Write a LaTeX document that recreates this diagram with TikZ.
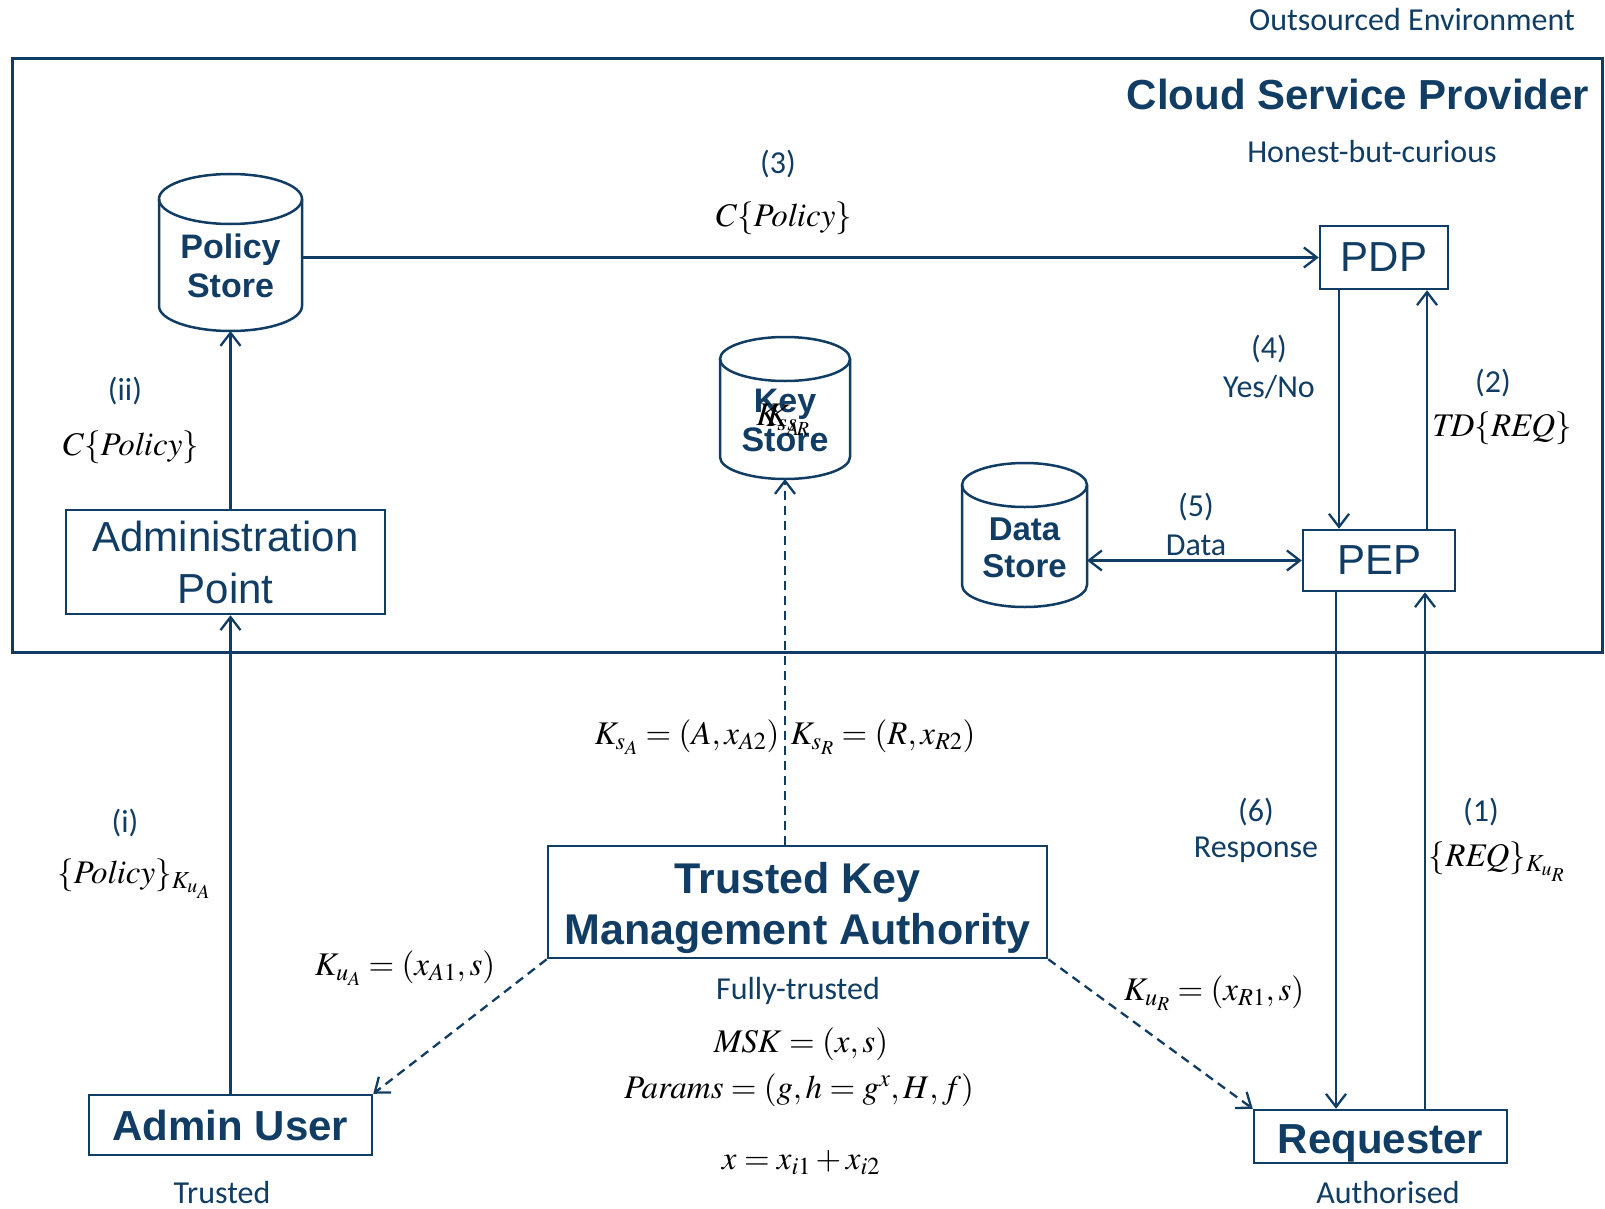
\documentclass[tikz,border=0pt]{standalone}
\usepackage{mathptmx}
\usepackage[no-math]{fontspec}
\newfontfamily\arialfont{Liberation Sans}
\newfontfamily\califont{Carlito}
\usetikzlibrary{arrows.meta}
\definecolor{navy}{HTML}{113D64}

\begin{document}
\begin{tikzpicture}[x=1pt,y=-1pt,
	box/.style={draw=navy, line width=2.5pt, text=navy, inner sep=0pt, align=center},
	store/.style={inner sep=0pt, outer sep=0pt, text=navy, align=center, font=\arialfont\bfseries\fontsize{34}{39}\selectfont},
	storeline/.style={draw=navy, line width=2.5pt},
	lbl/.style={text=navy, inner sep=1pt, font=\califont\fontsize{32}{36}\selectfont},
	eq/.style={font=\fontsize{33}{38}\selectfont},
	flow/.style={navy, line width=2.3pt, -{Straight Barb[length=13pt,width=20pt]}},
	keyflow/.style={flow, dash pattern=on 9pt off 6pt}]
		\useasboundingbox (0,0) rectangle (1605,1209);
		
		% outsourced environment
		\node[draw=navy, line width=3pt, minimum width=1590pt, minimum height=593pt] (csp) at (807,355.5) {};
		\node[lbl] (outenv) at (1412,20) {Outsourced Environment};
		\node[text=navy, font=\arialfont\bfseries\fontsize{42}{48}\selectfont] (csptitle) at (1358,94) {Cloud Service Provider};
		\node[lbl] (hbc) at (1372,152) {Honest-but-curious};
		
		% policy store
		\node[store, minimum width=143pt, minimum height=157pt] (ps) at (230.5,252.5) {\rule{0pt}{52pt}Policy\\Store};
		\draw[storeline] ([yshift=-25pt]ps.north west) -- ([yshift=25pt]ps.south west)
			arc[start angle=180, end angle=360, x radius=71.5pt, y radius=25pt] -- ([yshift=-25pt]ps.north east);
		\draw[storeline] ([yshift=-25pt]ps.north) ellipse [x radius=71.5pt, y radius=25pt];
		
		% key store
		\node[store, minimum width=130pt, minimum height=142pt] (ks) at (785,408) {\rule{0pt}{49pt}Key\\Store};
		\draw[storeline] ([yshift=-22pt]ks.north west) -- ([yshift=22pt]ks.south west)
			arc[start angle=180, end angle=360, x radius=65pt, y radius=22pt] -- ([yshift=-22pt]ks.north east);
		\draw[storeline] ([yshift=-22pt]ks.north) ellipse [x radius=65pt, y radius=22pt];
		
		% data store
		\node[store, minimum width=125pt, minimum height=144pt, font=\arialfont\bfseries\fontsize{33}{37}\selectfont] (ds) at (1024.5,535) {\rule{0pt}{48pt}Data\\Store};
		\draw[storeline] ([yshift=-22pt]ds.north west) -- ([yshift=22pt]ds.south west)
			arc[start angle=180, end angle=360, x radius=62.5pt, y radius=22pt] -- ([yshift=-22pt]ds.north east);
		\draw[storeline] ([yshift=-22pt]ds.north) ellipse [x radius=62.5pt, y radius=22pt];
		
		% overlapping key labels in the key store
		\node[eq, inner sep=0pt] (ksa) at (778,420) {$K_{s_A}$};
		\node[eq, inner sep=0pt] (ksr) at (788,420) {$K_{s_R}$};
		
		% points
		\node[box, minimum width=128pt, minimum height=63pt, font=\arialfont\fontsize{42}{48}\selectfont] (pdp) at (1384,257.5) {PDP};
		\node[box, minimum width=152pt, minimum height=61pt, font=\arialfont\fontsize{42}{48}\selectfont] (pep) at (1379,560.5) {PEP};
		\node[box, minimum width=319pt, minimum height=104pt, font=\arialfont\fontsize{42}{52}\selectfont] (adm) at (225.5,562) {Administration\\Point};
		
		% entities
		\node[box, minimum width=283pt, minimum height=60pt, font=\arialfont\bfseries\fontsize{42}{48}\selectfont] (au) at (230.5,1125) {Admin User};
		\node[box, minimum width=499pt, minimum height=112pt, font=\arialfont\bfseries\fontsize{43}{51}\selectfont] (tkma) at (797.5,902) {Trusted Key\rule{0pt}{43pt}\\Management Authority};
		\node[box, minimum width=253pt, minimum height=53pt, font=\arialfont\bfseries\fontsize{42}{48}\selectfont] (req) at (1380.5,1136.5) {Requester\rule{0pt}{43pt}};
		\node[lbl] (trusted) at (222,1192) {Trusted};
		\node[lbl] (fully) at (798,991) {Fully-trusted};
		\node[lbl] (auth) at (1388,1192) {Authorised};
		\node[eq] (msk) at (801,1044) {$\mathit{MSK}=(x,s)$};
		\node[eq] (params) at (799,1090) {$\mathit{Params}=(g,h=g^{x},H,f)$};
		\node[eq] (xsum) at (801,1163) {$x=x_{i1}+x_{i2}$};
		
		% flows
		\draw[flow] (ps.east |- pdp.west) -- (pdp.west);
		\draw[flow] (ps.south |- adm.north) -- (ps.south);
		\draw[flow] (au.north) -- (au.north |- adm.south);
		\draw[flow] ([xshift=-45pt]pdp.south) -- ([xshift=-45pt]pdp.south |- pep.north);
		\draw[flow] ([xshift=43pt]pdp.south |- pep.north) -- ([xshift=43pt]pdp.south);
		\draw[flow, {Straight Barb[length=13pt,width=20pt]}-{Straight Barb[length=13pt,width=20pt]}] (ds.east |- pep.west) -- (pep.west);
		\draw[flow] ([xshift=-43pt]pep.south) -- ([xshift=-43pt]pep.south |- req.north);
		\draw[flow] ([xshift=46pt]pep.south |- req.north) -- ([xshift=46pt]pep.south);
		\draw[keyflow] (tkma.north -| ks.south) -- (ks.south);
		\draw[keyflow] (tkma.south west) -- (au.north east);
		\draw[keyflow] (tkma.south east) -- (req.north west);
		
		% flow labels
		\node[lbl] (n3) at (778,164) {(3)};
		\node[eq] (cpol3) at (784,218) {$C\{\mathit{Policy}\}$};
		\node[lbl] (nii) at (125,391) {(ii)};
		\node[eq] (cpolii) at (131,447) {$C\{\mathit{Policy}\}$};
		\node[lbl] (ni) at (125,823) {(i)};
		\node[eq] (poli) at (134,879) {$\{\mathit{Policy}\}_{K_{u_A}}$};
		\node[lbl] (n4) at (1269,349) {(4)};
		\node[lbl] (yesno) at (1269,387) {Yes/No};
		\node[lbl] (n2) at (1493,383) {(2)};
		\node[eq] (tdreq) at (1502,428) {$\mathit{TD}\{\mathit{REQ}\}$};
		\node[lbl] (n5) at (1196,507) {(5)};
		\node[lbl] (data) at (1196,545) {Data};
		\node[lbl] (n6) at (1256,812) {(6)};
		\node[lbl] (resp) at (1256,850) {Response};
		\node[lbl] (n1) at (1481,812) {(1)};
		\node[eq] (reqk) at (1497,862) {$\{\mathit{REQ}\}_{K_{u_R}}$};
		\node[eq] (ksakey) at (687,737) {$K_{s_A}=(A,x_{A2})$};
		\node[eq] (ksrkey) at (883,737) {$K_{s_R}=(R,x_{R2})$};
		\node[eq] (kuakey) at (405,968) {$K_{u_A}=(x_{A1},s)$};
		\node[eq] (kurkey) at (1214,993) {$K_{u_R}=(x_{R1},s)$};
\end{tikzpicture}
\end{document}
